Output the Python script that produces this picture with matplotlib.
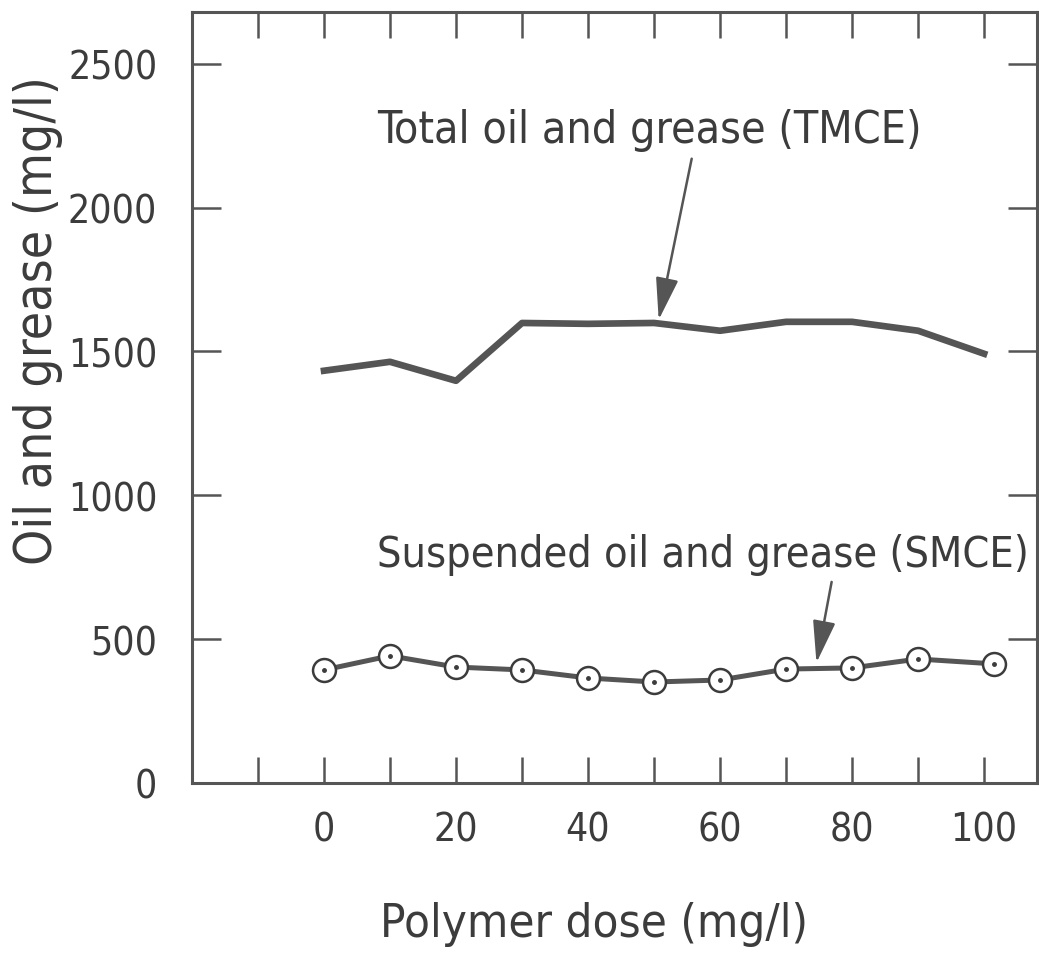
import matplotlib
matplotlib.use('Agg')
import matplotlib.pyplot as plt
from matplotlib import font_manager
from matplotlib.ticker import FixedLocator, FixedFormatter

# values
dose = [0, 10, 20, 30, 40, 50, 60, 70, 80, 90, 100]
total_og = [1433, 1464, 1398, 1599, 1596, 1599, 1572, 1603, 1603, 1572, 1492]
smce_dose = [0, 10, 20, 30, 40, 50, 60, 70, 80, 90, 101.5]
susp_og = [393, 442, 403, 393, 365, 351, 358, 396, 400, 431, 414]

xticks = list(range(-10, 101, 10))
xlabels = ['', '0', '', '20', '', '40', '', '60', '', '80', '', '100']
yticks = [0, 500, 1000, 1500, 2000, 2500]

# the original lettering is tall and narrow: look for a condensed face
narrow = None
for f in font_manager.fontManager.ttflist:
    bad = any(k in f.name for k in ('Mono', 'Serif', 'CJK'))
    if bad or f.style != 'normal' or f.weight not in (400, 'normal', 'regular'):
        continue
    if 'Narrow' in f.name or 'Condensed' in f.name or \
            f.stretch in ('condensed', 'semi-condensed', 'extra-condensed'):
        narrow = f
        break

if narrow is not None:
    plt.rcParams['font.family'] = [narrow.name, 'DejaVu Sans']
    plt.rcParams['font.stretch'] = narrow.stretch
    k = 1.0
else:
    plt.rcParams['font.family'] = ['DejaVu Sans']
    k = 0.78

ink = '#3c3c3c'
line = '#555555'

fig = plt.figure(figsize=(10.39, 9.54), dpi=100)
ax = fig.add_axes([0.1848, 0.1782, 0.8132, 0.8082])

ax.plot(dose, total_og, color=line, lw=4.8, solid_joinstyle='round')
ax.plot(smce_dose, susp_og, color=line, lw=3.6, marker='o', ms=16.5,
        mfc='white', mec=ink, mew=1.8)
ax.plot(smce_dose, susp_og, ls='none', marker='o', ms=2.5, color=ink)

ax.set_xlim(-20, 108)
ax.set_ylim(0, 2680)

ax.xaxis.set_major_locator(FixedLocator(xticks))
ax.xaxis.set_major_formatter(FixedFormatter(xlabels))
ax.set_yticks(yticks)

ax.tick_params(axis='x', direction='in', length=19, width=1.8, color=line,
               top=True, pad=20, labelsize=28 * k, labelcolor=ink)
ax.tick_params(axis='y', direction='in', length=21, width=1.8, color=line,
               right=True, pad=25, labelsize=28 * k, labelcolor=ink)
for s in ax.spines.values():
    s.set_linewidth(2.2)
    s.set_color(line)

ax.text(8.0, 2270, 'Total oil and grease (TMCE)', fontsize=32 * k, color=ink,
        ha='left', va='center')
ax.text(8.0, 796, 'Suspended oil and grease (SMCE)', fontsize=31 * k,
        color=ink, ha='left', va='center')

arrow = dict(arrowstyle='-|>,head_length=1.3,head_width=0.35', color=line,
             lw=1.8, mutation_scale=20, shrinkA=0, shrinkB=0)
ax.annotate('', xy=(50.7, 1610), xytext=(55.7, 2170), arrowprops=arrow)
ax.annotate('', xy=(74.6, 418), xytext=(76.9, 699), arrowprops=arrow)

fig.text(380 / 1039, 1 - 925 / 954, 'Polymer dose (mg/l)', fontsize=34 * k,
         color=ink, ha='left', va='center')
fig.text(38 / 1039, 1 - 321 / 954, 'Oil and grease (mg/l)', fontsize=37 * k,
         color=ink, ha='center', va='center', rotation=90)

fig.savefig('out.png', dpi=100)
